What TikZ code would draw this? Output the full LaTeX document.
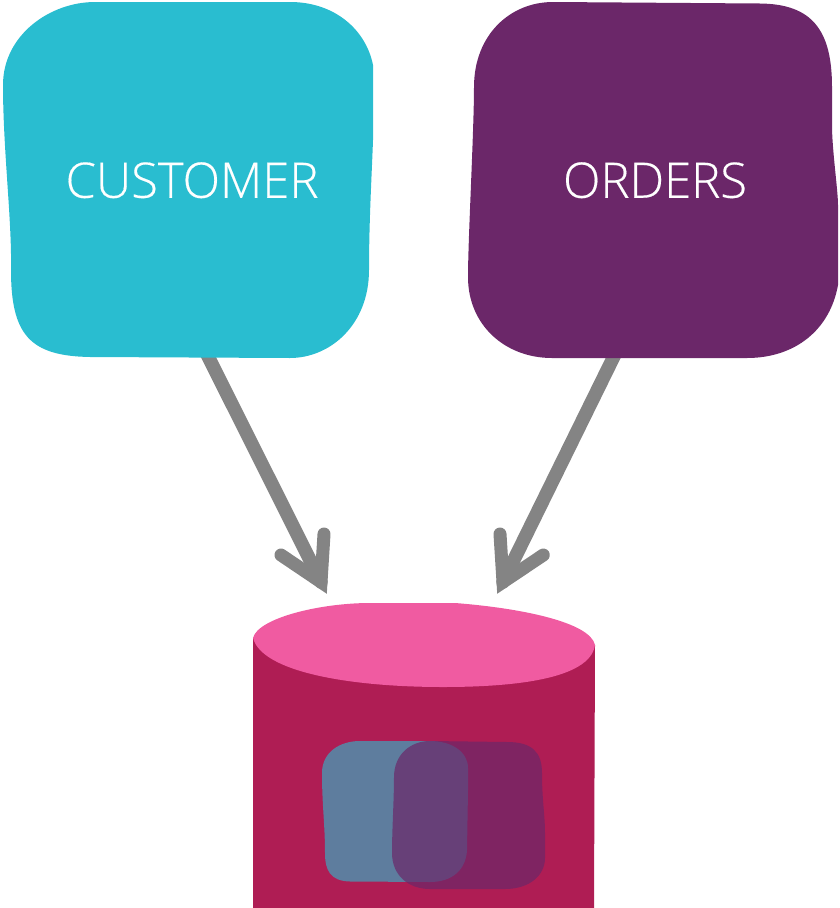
\documentclass[tikz,border=0pt]{standalone}
\usepackage{fontspec}
\usetikzlibrary{calc}
\newfontfamily\labelfont[FakeBold=0.3]{Open Sans Light}
\definecolor{cyanblob}{HTML}{29BDD0}
\definecolor{purpleblob}{HTML}{6B2769}
\definecolor{conngray}{HTML}{848484}
\definecolor{dbtop}{HTML}{F05BA1}
\definecolor{dbbody}{HTML}{AF1D54}
\pgfdeclarelayer{connlayer}
\pgfdeclarelayer{bloblayer}
\pgfsetlayers{connlayer,bloblayer,main}
\tikzset{
  blobname/.style={inner sep=0pt,minimum width=360pt,minimum height=356pt,text depth=0pt,text=white,font=\labelfont\fontsize{49}{49}\selectfont},
  conn/.style={draw=conngray,line width=13.5pt,line cap=round,miter limit=10},
  connhead/.style={conn,line width=13pt,line join=miter},
}
\begin{document}
\begin{tikzpicture}[x=1pt,y=-1pt]
\useasboundingbox (0,0) rectangle (840,908);
\node[blobname] (customer) at (192,180) {CUSTOMER};
\node[blobname] (orders) at (655,180) {ORDERS};
\node[inner sep=0pt,minimum width=342pt,minimum height=305pt] (db) at (424,755.5) {};
\coordinate (custTip) at (321,582);
\coordinate (ordTip) at (503,582);
\coordinate (custBarbA) at (324,534);
\coordinate (custBarbB) at (281,555);
\coordinate (ordBarbA) at (500,534);
\coordinate (ordBarbB) at (543.3,555);
\begin{pgfonlayer}{connlayer}
  \draw[conn] ($(customer.south)+(15,-4)$) -- (custTip);
  \draw[conn] ($(orders.south)+(-40,-4)$) -- (ordTip);
  \draw[connhead] (custBarbA) -- (custTip) -- (custBarbB);
  \draw[connhead] (ordBarbA) -- (ordTip) -- (ordBarbB);
\end{pgfonlayer}
\begin{pgfonlayer}{bloblayer}
  \fill[cyanblob] (95,2) -- (290,2) .. controls (335,2) and (366,30) .. (373,65)
    -- (373,140) .. controls (372,170) and (369,220) .. (369,270)
    .. controls (369,325) and (330,358) .. (290,358) -- (90,357)
    .. controls (30,356) and (11,335) .. (11,270)
    .. controls (12,220) and (3,150) .. (3,85)
    .. controls (3,35) and (50,2) .. (95,2) -- cycle;
  \fill[purpleblob] (553,2) -- (760,3.5) .. controls (812,4) and (832,30) .. (832,87)
    -- (832,125) .. controls (832,150) and (838,190) .. (838,205)
    -- (838,285) .. controls (830,330) and (795,358) .. (747,358)
    -- (552,358) .. controls (505,358) and (468,325) .. (468,277)
    .. controls (468,240) and (474,130) .. (474,87)
    .. controls (474,35) and (510,2) .. (553,2) -- cycle;
  \fill[dbbody] (253,638) -- (253,908) -- (594,908) -- (595,645) -- cycle;
  \fill[dbtop] (253,638) .. controls (258,618) and (320,603) .. (370,603)
    -- (455,603) .. controls (520,608) and (590,622) .. (595,645)
    .. controls (590,680) and (510,687) .. (443,687)
    .. controls (350,687) and (262,672) .. (253,638) -- cycle;
  \fill[cyanblob,opacity=.6] (360,741) -- (430,741) .. controls (452,741) and (468,752) .. (468,768)
    -- (468,790) -- (467,850) .. controls (466,870) and (452,882) .. (430,882)
    -- (350,881.5) .. controls (330,881) and (325,870) .. (325,853)
    .. controls (325,825) and (322,805) .. (322,773)
    .. controls (322,752) and (340,741) .. (360,741) -- cycle;
  \fill[purpleblob,opacity=.7] (430,741) -- (507,742) .. controls (532,742) and (542,752) .. (542,773)
    .. controls (542,800) and (545,815) .. (545,833)
    -- (545,858) .. controls (545,875) and (530,889) .. (505,889)
    -- (430,889) .. controls (408,889) and (392,875) .. (392,853)
    .. controls (392,830) and (394,800) .. (394,777)
    .. controls (394,755) and (410,741) .. (430,741) -- cycle;
\end{pgfonlayer}
\end{tikzpicture}
\end{document}
